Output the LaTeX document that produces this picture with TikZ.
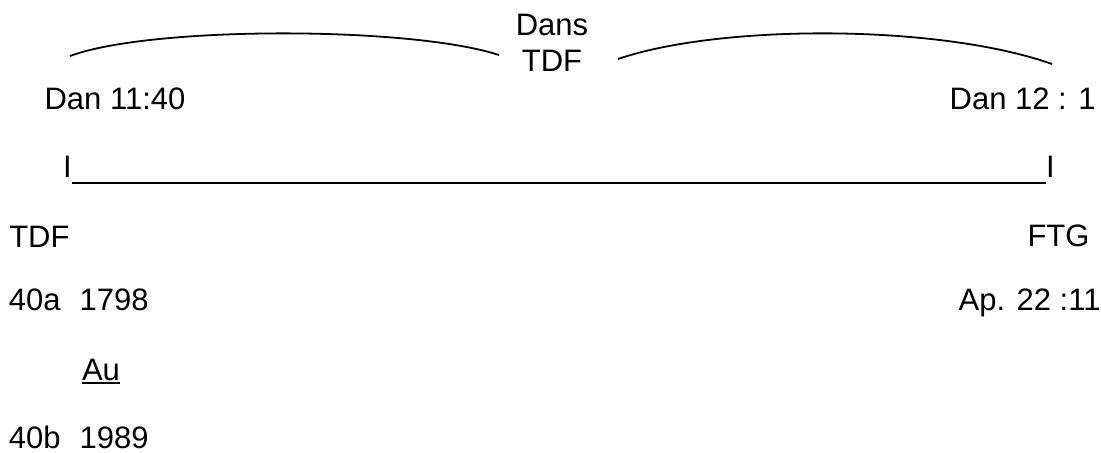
\documentclass[tikz,border=0pt]{standalone}
\usepackage{fontspec}
\setmainfont{Liberation Sans}
\usetikzlibrary{positioning, calc}
\tikzstyle{txt} = [inner sep=0pt, outer sep=0pt, font=\fontsize{15.5}{18}\selectfont]
\tikzstyle{leftcol} = [txt, anchor=base west]
\tikzstyle{rightcol} = [txt, anchor=base east]
\tikzstyle{brace} = [line width=0.9pt]

\begin{document}
\begin{tikzpicture}[x=0.5pt, y=-0.5pt]
			\useasboundingbox (0,0) rectangle (1101,452);
			\node (dans) [txt, anchor=base] at (552,35) {Dans};
			\node (tdftop) [txt, anchor=base] at (552,71) {TDF};
			\node (dan1) [leftcol] at (44.6,109) {Dan 11:40};
			\node (dan2) [rightcol] at (1095.6,109) {Dan 12 : 1};
			
			\node (barL) [txt, anchor=base] at (67.5,177) {I};
			\node (barR) [txt, anchor=base] at (1050.5,177) {I};
			\draw[line width=1.3pt] ([yshift=-3pt]barL.base east) -- ([yshift=-3pt]barR.base west);
			
			\coordinate (a1) at (70,56);
			\coordinate (a2) at (499,55);
			\coordinate (b1) at (618,59);
			\coordinate (b2) at (1052,64);
			\draw[brace] (a1) .. controls (150,26) and (410,26) .. (a2);
			\draw[brace] (b1) .. controls (720,24) and (939,24) .. (b2);
			
			\node (tdf) [leftcol] at (9.3,247) {TDF};
			\node (ftg) [rightcol] at (1089.5,246) {FTG};
			\node (n40a) [leftcol] at (9,310) {40a};
			\node (y1798) [txt, base right=9.5pt of n40a] {1798};
			\node (ap) [rightcol] at (1100.5,310) {Ap. 22 :11};
			\node (au) [leftcol] at (82,380) {Au};
			\draw[line width=1.1pt] ([yshift=-1.6pt]au.base west) -- ([yshift=-1.6pt]au.base east);
			\node (n40b) [leftcol] at (9,448) {40b};
			\node (y1989) [txt, base right=9.5pt of n40b] {1989};
\end{tikzpicture}
\end{document}
